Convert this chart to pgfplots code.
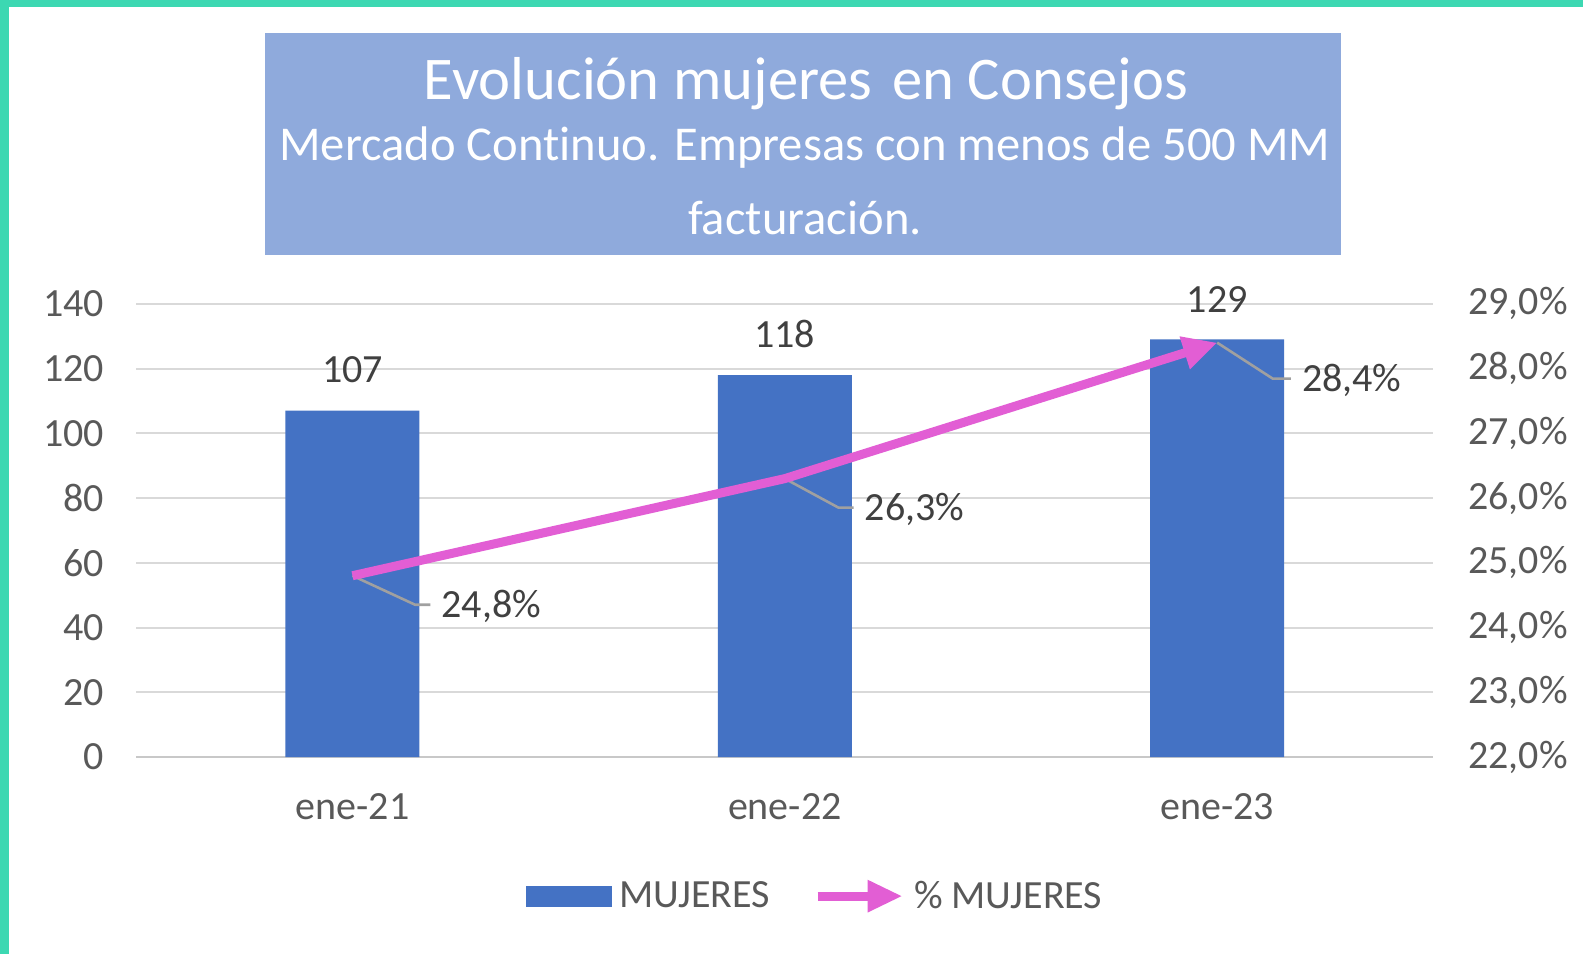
\documentclass[border=0pt]{standalone}
\usepackage{fontspec}
\setmainfont{Carlito}[Ligatures=NoCommon]
\usepackage{pgfplots}
\pgfplotsset{compat=1.18}
\usetikzlibrary{arrows.meta}
\definecolor{bordercol}{RGB}{60,216,178}
\definecolor{barblue}{RGB}{68,114,196}
\definecolor{titlebox}{RGB}{143,170,220}
\definecolor{mag}{RGB}{226,94,212}
\definecolor{gridgray}{RGB}{217,217,217}
\definecolor{axisgray}{RGB}{200,200,200}
\definecolor{ticktext}{RGB}{89,89,89}
\definecolor{labeltext}{RGB}{64,64,64}
\definecolor{leadergray}{RGB}{160,160,160}
\newcommand{\sz}{\fontsize{20pt}{24pt}\selectfont}
\pgfplotsset{/pgf/number format/assume math mode=true,
  arrowlegend/.style={legend image code/.code={\draw[mag, line width=4.5pt, -{Triangle[length=17.5pt,width=15pt]}] (0pt,0pt) -- (42.5pt,0pt);}},
  barlegend/.style={legend image code/.code={\fill[barblue] (0pt,-5.25pt) rectangle (43pt,5.25pt);}}}
\begin{document}
\begin{tikzpicture}
\useasboundingbox (0,0) rectangle (791.5pt,477pt);
\fill[white] (0,0) rectangle (791.5pt,477pt);
\fill[bordercol] (0,0) rectangle (4.5pt,477pt);
\fill[bordercol] (0,473.5pt) rectangle (791.5pt,477pt);
\fill[titlebox] (132.5pt,349.5pt) rectangle (670.5pt,460.5pt);
\node[text=white, font=\fontsize{30.3pt}{36pt}\selectfont] at (403pt,435.3pt) {Evolución mujeres\hspace{0.1em} en Consejos};
\node[text=white, font=\fontsize{24.3pt}{29pt}\selectfont] at (402.5pt,403pt) {Mercado Continuo. Empresas con menos de 500 MM};
\node[text=white, font=\fontsize{24.3pt}{29pt}\selectfont] at (402.5pt,368.2pt) {facturación.};

\begin{axis}[
  at={(68.15pt,98.5pt)}, anchor=south west,
  width=648.5pt, height=226.6pt, scale only axis,
  xmin=-0.5, xmax=2.5, ymin=0, ymax=140,
  ytick={0,20,40,60,80,100,120,140},
  ymajorgrids, grid style={gridgray, line width=1pt},
  axis lines*=left,
  y axis line style={draw=none},
  x axis line style={axisgray, line width=1pt},
  ytick style={draw=none},
  major tick length=0pt,
  xtick={0,1,2},
  xticklabels={ene-21,ene-22,ene-23},
  xtick style={draw=none},
  extra x ticks={-0.5,0.5,1.5,2.5},
  extra x tick labels={},
  extra x tick style={tick style={draw=axisgray, line width=1pt}, major tick length=4.5pt, tick align=outside, grid=none},
  xticklabel style={yshift=-14.5pt, text=ticktext, font=\sz},
  yticklabel style={xshift=-12.5pt, text=ticktext, font=\sz},
  ybar, bar width=67pt,
  legend style={at={(0.5255,-0.307)}, anchor=center, draw=none, fill=none,
    font=\sz, text=ticktext, nodes={inner sep=3.5pt},
    /tikz/every even column/.append style={column sep=18pt}},
  legend columns=2, legend cell align=left,
]
\addplot[fill=barblue, draw=none, barlegend,
  nodes near coords,
  every node near coord/.append style={anchor=south, inner sep=0pt, yshift=13.5pt, font=\sz, text=labeltext}]
  coordinates {(0,107) (1,118) (2,129)};
\addlegendentry{MUJERES}
\addlegendimage{arrowlegend}
\addlegendentry{\% MUJERES}
\end{axis}

\begin{axis}[
  at={(68.15pt,98.5pt)}, anchor=south west,
  width=648.5pt, height=226.6pt, scale only axis,
  xmin=-0.5, xmax=2.5, ymin=22, ymax=29,
  ytick={22,23,24,25,26,27,28,29},
  axis x line=none, axis y line*=right,
  y axis line style={draw=none},
  ytick style={draw=none}, major tick length=0pt,
  yticklabel={\pgfmathprintnumber[fixed,fixed zerofill,precision=1,use comma]{\tick}\%},
  yticklabel style={xshift=14pt, text=ticktext, font=\sz},
  clip=false,
]
\draw[leadergray, line width=1.3pt] (axis cs:0,24.8) -- ++(31.3pt,-14.5pt) -- ++(7.6pt,0pt)
  node[anchor=west, inner sep=0pt, xshift=5pt, yshift=-0.8pt, text=labeltext, font=\sz] {24,8\%};
\draw[leadergray, line width=1.3pt] (axis cs:1,26.3) -- ++(26.8pt,-14.5pt) -- ++(7.6pt,0pt)
  node[anchor=west, inner sep=0pt, xshift=5pt, yshift=-0.8pt, text=labeltext, font=\sz] {26,3\%};
\draw[leadergray, line width=1.3pt] (axis cs:2,28.4) -- ++(27.8pt,-18pt) -- ++(9pt,0pt)
  node[anchor=west, inner sep=0pt, xshift=5pt, yshift=-0.8pt, text=labeltext, font=\sz] {28,4\%};
\addplot[mag, line width=4.5pt, -{Triangle[length=17pt,width=16pt]}]
  coordinates {(0,24.8) (1,26.3) (2,28.4)};
\end{axis}
\end{tikzpicture}
\end{document}
